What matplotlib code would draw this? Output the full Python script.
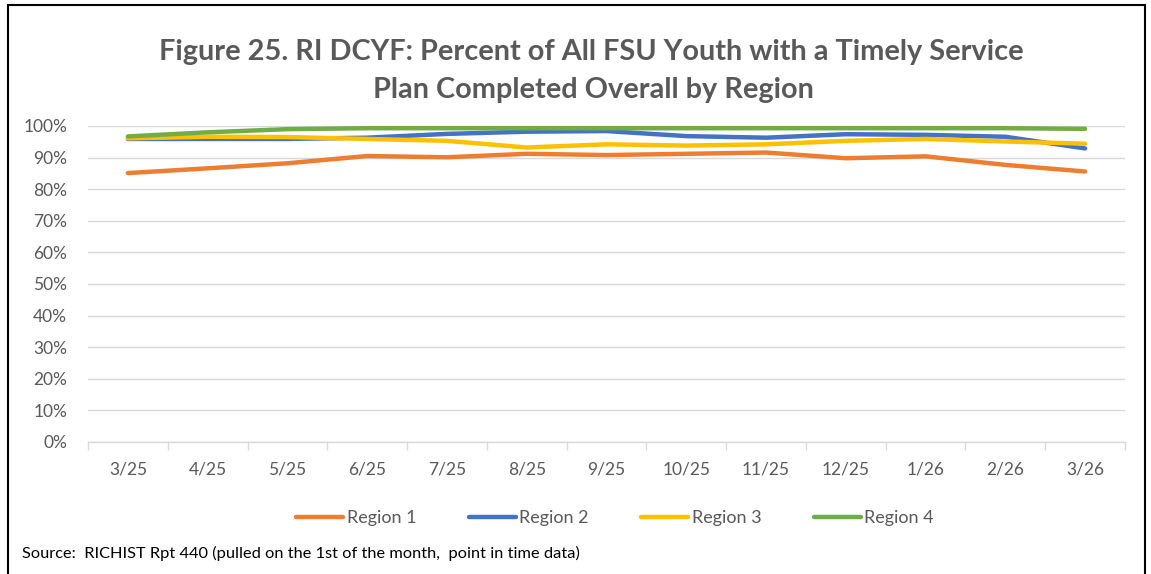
import matplotlib
matplotlib.use("Agg")
import matplotlib.pyplot as plt
from matplotlib.patches import Rectangle
import numpy as np

plt.rcParams['font.family'] = ['Lato', 'DejaVu Sans']

months = ["3/25", "4/25", "5/25", "6/25", "7/25", "8/25", "9/25",
          "10/25", "11/25", "12/25", "1/26", "2/26", "3/26"]
region1 = [85.1, 86.6, 88.2, 90.5, 90.1, 91.2, 90.8, 91.2, 91.6, 89.8, 90.4, 87.7, 85.6]
region2 = [95.9, 95.9, 95.9, 96.3, 97.5, 98.2, 98.4, 96.8, 96.3, 97.4, 97.2, 96.6, 92.9]
region3 = [96.1, 96.6, 96.5, 95.9, 95.3, 93.2, 94.2, 93.8, 94.2, 95.3, 95.9, 95.1, 94.4]
region4 = [96.7, 98.0, 99.0, 99.3, 99.3, 99.3, 99.3, 99.3, 99.3, 99.3, 99.3, 99.3, 99.1]
series_names = ["Region 1", "Region 2", "Region 3", "Region 4"]
colors = ["#ED7D31", "#4472C4", "#FFC000", "#70AD47"]
yticks = [0, 10, 20, 30, 40, 50, 60, 70, 80, 90, 100]

W, H = 1151, 574
fig = plt.figure(figsize=(W / 100, H / 100), dpi=100)
fig.patches.append(Rectangle((8 / W, -0.01), (1145 - 8) / W, 1 - 5 / H + 0.01,
                             transform=fig.transFigure, fill=False,
                             edgecolor="#000000", linewidth=1.5))

ax = fig.add_axes([88 / W, 1 - 442 / H, (1125 - 88) / W, 316 / H])
x = np.arange(len(months))
for vals, name, c in zip([region1, region2, region3, region4], series_names, colors):
    ax.plot(x, np.array(vals) / 100, color=c, lw=3.2, label=name,
            solid_capstyle="round", solid_joinstyle="round")

ax.set_xlim(-0.5, len(months) - 0.5)
ax.set_ylim(0, 1)
ax.set_yticks([v / 100 for v in yticks])
ax.set_yticklabels([f"{v}%" for v in yticks])
ax.set_xticks(x)
ax.set_xticklabels(months)
ax.set_xticks(np.arange(-0.5, len(months), 1), minor=True)
ax.tick_params(axis="x", which="major", length=0, pad=14, labelsize=12.5, labelcolor="#595959")
ax.tick_params(axis="x", which="minor", length=6, color="#D9D9D9", width=1)
ax.tick_params(axis="y", length=0, pad=15, labelsize=12.5, labelcolor="#595959")
ax.grid(axis="y", color="#D9D9D9", lw=1)
ax.set_axisbelow(True)
for s in ["top", "right", "left"]:
    ax.spines[s].set_visible(False)
ax.spines["bottom"].set_color("#D9D9D9")
ax.spines["bottom"].set_linewidth(1)
ax.spines["bottom"].set_zorder(0.5)

fig.text(591 / W, 1 - 52 / H, "Figure 25. RI DCYF: Percent of All FSU Youth with a Timely Service",
         ha="center", va="center", fontsize=20.8, fontweight="bold", color="#595959")
fig.text(593 / W, 1 - 90 / H, "Plan Completed Overall by Region",
         ha="center", va="center", fontsize=20.8, fontweight="bold", color="#595959")

leg = fig.legend(loc="center", bbox_to_anchor=(615 / W, 1 - 518 / H), ncol=4,
                 frameon=False, fontsize=13, handlelength=2.6, handletextpad=0.2,
                 columnspacing=2.9, labelcolor="#595959")
for line in leg.get_lines():
    line.set_linewidth(3.2)

fig.text(22 / W, 1 - 553 / H,
         "Source:  RICHIST Rpt 440 (pulled on the 1st of the month,  point in time data)",
         ha="left", va="center", fontsize=11.8, color="#000000")

fig.savefig("out.png", dpi=100)
